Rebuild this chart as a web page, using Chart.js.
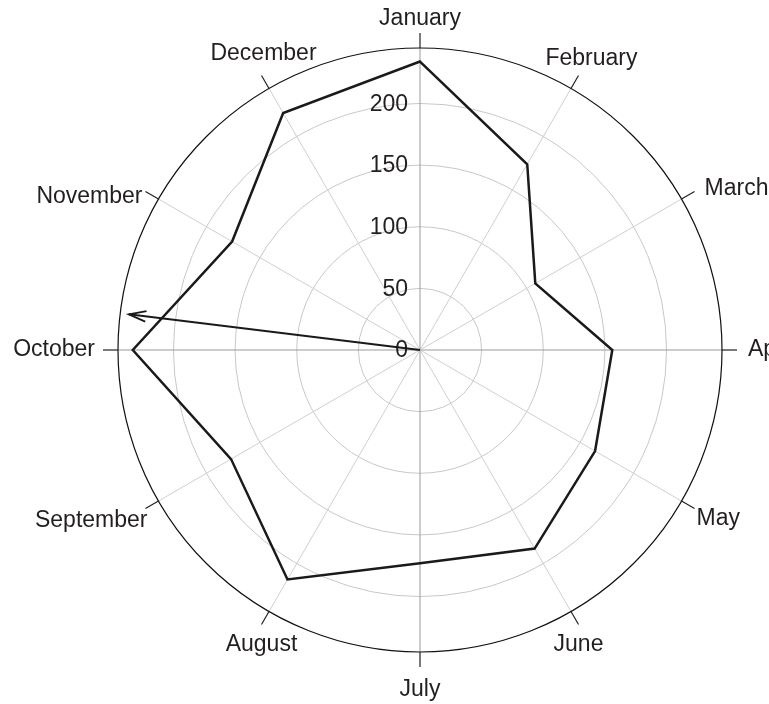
<!DOCTYPE html>
<html lang="en">
<head>
  <meta charset="UTF-8">
  <title>Monthly Radar</title>
  <script src="https://cdn.jsdelivr.net/npm/chart.js"></script>
  <style>
    html, body { margin: 0; padding: 0; background: #fff; }
    .wrap { width: 769px; height: 704px; position: relative; }
  </style>
</head>
<body>
  <div class="wrap"><canvas id="radarChart"></canvas></div>
  <script>
    const months = ['January', 'February', 'March', 'April', 'May', 'June',
                    'July', 'August', 'September', 'October', 'November', 'December'];
    const values = [234, 174, 108, 156, 164, 186, 173, 215, 177, 233, 176, 222];
    const tickValues = [0, 50, 100, 150, 200];
    const scaleMax = 245;
    // arrow annotation: value along a bearing (degrees clockwise from January)
    const arrowValue = 238;
    const arrowBearing = 277;

    const font = '23px "Liberation Sans", Arial, sans-serif';
    const ink = '#231f20';

    // label placement around the rim: align, baseline, dx, dy
    const labelPlace = [
      ['center', 'alphabetic', 0, -8],
      ['center', 'alphabetic', 13, -10],
      ['left', 'middle', 10, -3],
      ['left', 'middle', 11, 0],
      ['left', 'top', 2, -1],
      ['center', 'top', 0, 9],
      ['center', 'top', 0, 11],
      ['center', 'top', 0, 9],
      ['right', 'top', 2, 1],
      ['right', 'middle', -8, 0],
      ['right', 'middle', -3, 5],
      ['center', 'alphabetic', 2, -15]
    ];

    const radarDecor = {
      id: 'radarDecor',
      beforeDatasetsDraw(chart) {
        const s = chart.scales.r;
        const ctx = chart.ctx;
        const R = s.getDistanceFromCenterForValue(s.max);
        ctx.save();
        // outer ring
        ctx.strokeStyle = '#111';
        ctx.lineWidth = 1.2;
        ctx.beginPath();
        ctx.arc(s.xCenter, s.yCenter, R, 0, Math.PI * 2);
        ctx.stroke();
        // ticks outside the ring and month labels
        ctx.font = font;
        ctx.fillStyle = ink;
        months.forEach((m, i) => {
          const a = s.getPointPosition(i, R);
          const b = s.getPointPosition(i, R + 15);
          ctx.strokeStyle = '#222';
          ctx.lineWidth = 1.2;
          ctx.beginPath();
          ctx.moveTo(a.x, a.y);
          ctx.lineTo(b.x, b.y);
          ctx.stroke();
          const [al, bl, dx, dy] = labelPlace[i];
          ctx.textAlign = al;
          ctx.textBaseline = bl;
          ctx.fillText(m, b.x + dx, b.y + dy);
        });
        // value labels along the vertical axis
        ctx.textAlign = 'right';
        ctx.textBaseline = 'middle';
        tickValues.forEach(v => {
          const d = s.getDistanceFromCenterForValue(v);
          ctx.fillText(String(v), s.xCenter - 12, s.yCenter - d + 1);
        });
        ctx.restore();
      },
      afterDatasetsDraw(chart) {
        const s = chart.scales.r;
        const ctx = chart.ctx;
        const tip = s.getPointPosition(arrowBearing / (360 / months.length), s.getDistanceFromCenterForValue(arrowValue));
        const ang = Math.atan2(tip.y - s.yCenter, tip.x - s.xCenter);
        ctx.save();
        ctx.strokeStyle = '#1a1a1a';
        ctx.lineWidth = 1.8;
        ctx.beginPath();
        ctx.moveTo(s.xCenter, s.yCenter);
        ctx.lineTo(tip.x, tip.y);
        ctx.stroke();
        const len = 18, spread = 0.3;
        ctx.beginPath();
        ctx.moveTo(tip.x - len * Math.cos(ang - spread), tip.y - len * Math.sin(ang - spread));
        ctx.lineTo(tip.x, tip.y);
        ctx.lineTo(tip.x - len * Math.cos(ang + spread), tip.y - len * Math.sin(ang + spread));
        ctx.stroke();
        ctx.restore();
      }
    };

    new Chart(document.getElementById('radarChart'), {
      type: 'radar',
      data: {
        labels: months,
        datasets: [{
          data: values,
          borderColor: '#1a1a1a',
          borderWidth: 2.5,
          backgroundColor: 'transparent',
          fill: false,
          tension: 0,
          pointRadius: 0,
          pointHoverRadius: 0
        }]
      },
      options: {
        responsive: true,
        maintainAspectRatio: false,
        animation: false,
        layout: { padding: { left: 118, right: 47, top: 48, bottom: 52 } },
        plugins: { legend: { display: false }, tooltip: { enabled: false } },
        scales: {
          r: {
            min: 0,
            max: scaleMax,
            bounds: 'data',
            ticks: { display: false, stepSize: 50 },
            pointLabels: { display: false },
            grid: {
              circular: true,
              color: c => (c.tick && c.tick.value % 50 === 0) ? '#c8c8c8' : 'transparent',
              lineWidth: 1
            },
            angleLines: {
              color: c => c.index % 3 === 0 ? '#9a9a9a' : '#cfcfcf',
              lineWidth: 1
            }
          }
        }
      },
      plugins: [radarDecor]
    });
  </script>
</body>
</html>
